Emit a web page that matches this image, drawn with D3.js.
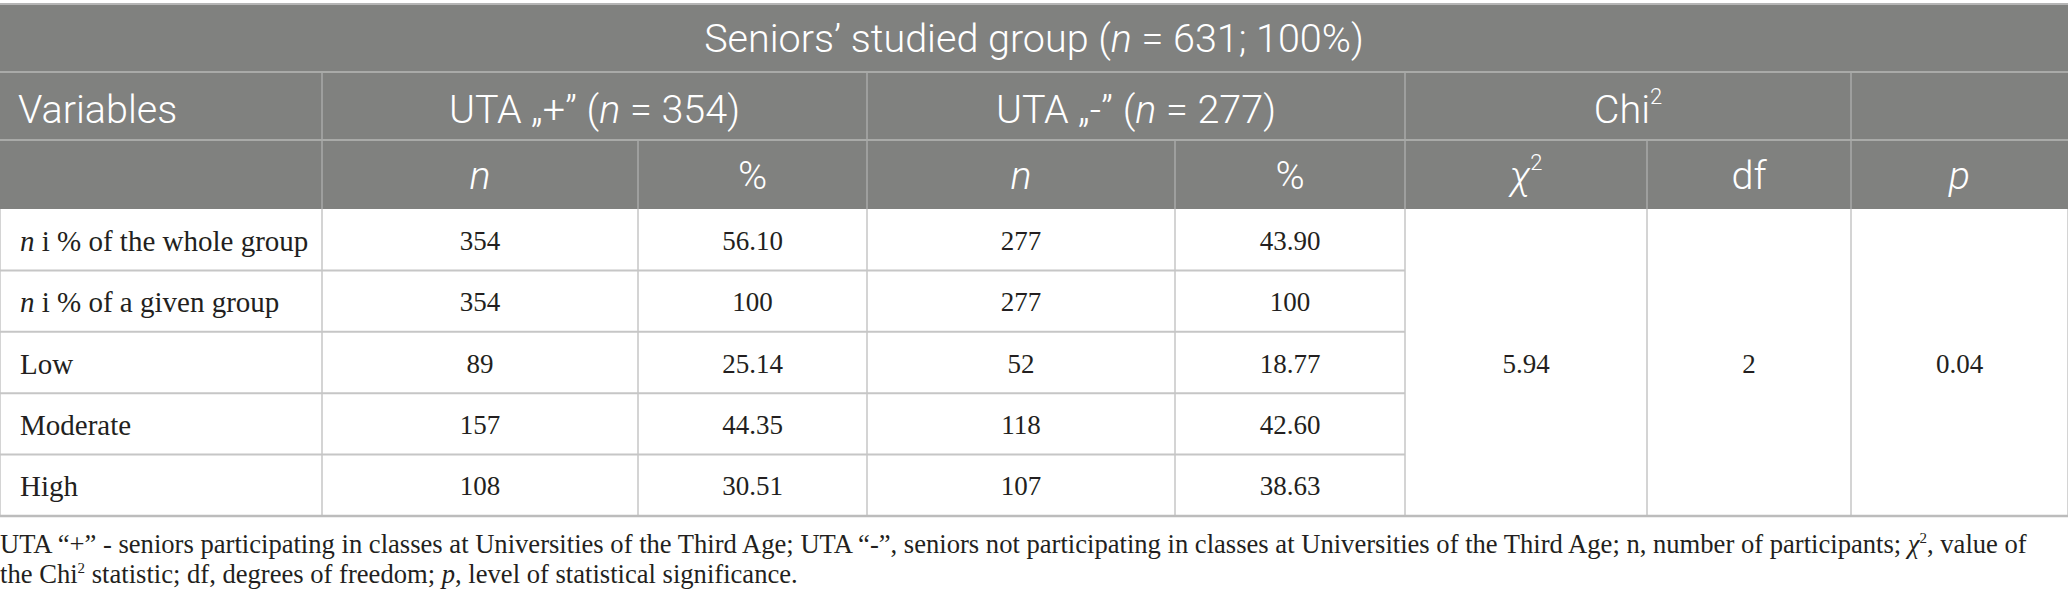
<!DOCTYPE html>
<html>
<head>
<meta charset="utf-8">
<script src="https://cdn.jsdelivr.net/npm/d3@7"></script>
<style>
  html, body { margin: 0; padding: 0; background: #ffffff; }
  svg { display: block; }
</style>
</head>
<body>
<svg id="chart" width="2068" height="606"></svg>
<script>
// ---- data ----
const title = "Seniors\u2019 studied group";
const titleN = "631";
const groupLabels = ["UTA \u201E+\u201D", "UTA \u201E-\u201D"];
const groupNs = ["354", "277"];
const categories = ["n i % of the whole group", "n i % of a given group", "Low", "Moderate", "High"];
const utaPlusN = ["354", "354", "89", "157", "108"];
const utaPlusPct = ["56.10", "100", "25.14", "44.35", "30.51"];
const utaMinusN = ["277", "277", "52", "118", "107"];
const utaMinusPct = ["43.90", "100", "18.77", "42.60", "38.63"];
const chiValue = "5.94";
const dfValue = "2";
const pValue = "0.04";

// ---- layout ----
const W = 2068;
const colEdges = [0, 322, 638, 867, 1175, 1405, 1647, 1851, 2068];
const headTop = 4, h1 = 72, h2 = 140, h3 = 209, bodyBottom = 516;
const headerBg = "#80817f";
const headFont = "Roboto, 'Open Sans', sans-serif";
const bodyFont = "'Liberation Serif', 'DejaVu Serif', serif";

const svg = d3.select("#chart");

const y = d3.scaleBand().domain(categories).range([h3, bodyBottom]);
const colX = i => (colEdges[i] + colEdges[i + 1]) / 2;

// header background
svg.append("rect").attr("x", 0).attr("y", headTop).attr("width", W).attr("height", h3 - headTop)
  .attr("fill", headerBg);

const hdrLine = "#a9aaa8";
svg.append("line").attr("x1", 0).attr("x2", W).attr("y1", headTop).attr("y2", headTop)
  .attr("stroke", "#b5b5b5").attr("stroke-width", 2);
[h1, h2].forEach(yy => svg.append("line").attr("x1", 0).attr("x2", W).attr("y1", yy).attr("y2", yy)
  .attr("stroke", hdrLine).attr("stroke-width", 2));
[colEdges[1], colEdges[3], colEdges[5], colEdges[7]].forEach(xx =>
  svg.append("line").attr("x1", xx).attr("x2", xx).attr("y1", h1).attr("y2", h2)
    .attr("stroke", hdrLine).attr("stroke-width", 1.5));
colEdges.slice(1, -1).forEach(xx =>
  svg.append("line").attr("x1", xx).attr("x2", xx).attr("y1", h2).attr("y2", h3)
    .attr("stroke", hdrLine).attr("stroke-width", 1.5));

// header texts
const hText = (x, yy, anchor) => svg.append("text").attr("x", x).attr("y", yy)
  .attr("text-anchor", anchor).attr("dominant-baseline", "central")
  .attr("fill", "#ffffff").attr("font-family", headFont).attr("font-weight", 300)
  .attr("font-size", 39.5);

let t = hText(W / 2, (headTop + h1) / 2, "middle");
t.append("tspan").text(title + " (");
t.append("tspan").attr("font-style", "italic").text("n");
t.append("tspan").text(" = " + titleN + "; 100%)");

const row2Y = (h1 + h2) / 2 + 3;
hText(18, row2Y, "start").text("Variables");
groupLabels.forEach((g, i) => {
  const tt = hText((colEdges[1 + 2 * i] + colEdges[3 + 2 * i]) / 2, row2Y, "middle");
  tt.append("tspan").text(g + " (");
  tt.append("tspan").attr("font-style", "italic").text("n");
  tt.append("tspan").text(" = " + groupNs[i] + ")");
});
t = hText((colEdges[5] + colEdges[7]) / 2, row2Y, "middle");
t.append("tspan").text("Chi");
t.append("tspan").attr("font-size", 22).attr("dy", -13).text("2");

const sub = [
  {i: 1, s: "n", it: true}, {i: 2, s: "%"}, {i: 3, s: "n", it: true}, {i: 4, s: "%"},
  {i: 5, s: "\u03C7", it: true, sup: true}, {i: 6, s: "df"}, {i: 7, s: "p", it: true}
];
sub.forEach(d => {
  const tt = hText(colX(d.i), (h2 + h3) / 2, "middle");
  tt.append("tspan").attr("font-style", d.it ? "italic" : "normal").text(d.s);
  if (d.sup) tt.append("tspan").attr("font-size", 22).attr("dy", -13).text("2");
});

// body grid
const gridCol = "#c6c6c6";
categories.forEach((c, i) => {
  if (i > 0) svg.append("line").attr("x1", 0).attr("x2", colEdges[5])
    .attr("y1", y(c)).attr("y2", y(c)).attr("stroke", gridCol).attr("stroke-width", 2);
});
colEdges.forEach(xx => svg.append("line").attr("x1", xx).attr("x2", xx)
  .attr("y1", h3).attr("y2", bodyBottom).attr("stroke", gridCol).attr("stroke-width", 1.5));
svg.append("line").attr("x1", 0).attr("x2", W).attr("y1", bodyBottom).attr("y2", bodyBottom)
  .attr("stroke", "#bcbcbc").attr("stroke-width", 2.5);

// body text
const bText = (x, yy, anchor, size) => svg.append("text").attr("x", x).attr("y", yy)
  .attr("text-anchor", anchor).attr("dominant-baseline", "central")
  .attr("fill", "#231f20").attr("font-family", bodyFont).attr("font-size", size || 27);

categories.forEach((c, i) => {
  const cy = y(c) + y.bandwidth() / 2 + 1;
  const lt = bText(20, cy, "start", 29);
  if (c.startsWith("n ")) {
    lt.append("tspan").attr("font-style", "italic").text("n");
    lt.append("tspan").text(c.slice(1));
  } else lt.text(c);
  [utaPlusN, utaPlusPct, utaMinusN, utaMinusPct].forEach((arr, j) =>
    bText(colX(j + 1), cy, "middle").text(arr[i]));
});
const midY = (h3 + bodyBottom) / 2 + 1;
bText(colX(5), midY, "middle").text(chiValue);
bText(colX(6), midY, "middle").text(dfValue);
bText(colX(7), midY, "middle").text(pValue);

// footnote
const fText = (yy) => svg.append("text").attr("x", 0).attr("y", yy)
  .attr("fill", "#231f20").attr("font-family", bodyFont).attr("font-size", 26.6);
let f = fText(553);
f.append("tspan").text("UTA \u201C+\u201D - seniors participating in classes at Universities of the Third Age; UTA \u201C-\u201D, seniors not participating in classes at Universities of the Third Age; n, number of participants; ");
f.append("tspan").attr("font-style", "italic").text("\u03C7");
f.append("tspan").attr("font-size", 15).attr("dy", -10).text("2");
f.append("tspan").attr("dy", 10).text(", value of");
f = fText(583);
f.append("tspan").text("the Chi");
f.append("tspan").attr("font-size", 15).attr("dy", -10).text("2");
f.append("tspan").attr("dy", 10).text(" statistic; df, degrees of freedom; ");
f.append("tspan").attr("font-style", "italic").text("p");
f.append("tspan").text(", level of statistical significance.");
</script>
</body>
</html>
